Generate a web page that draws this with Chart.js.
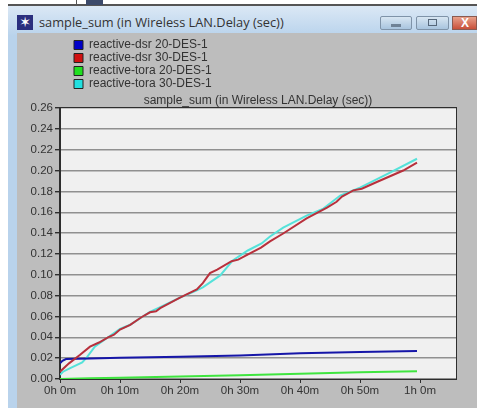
<!DOCTYPE html>
<html><head><meta charset="utf-8">
<script src="https://cdn.jsdelivr.net/npm/chart.js@4"></script>
<style>
html,body{margin:0;padding:0;background:#fff;overflow:hidden}
#win{position:absolute;left:0;top:0;width:477px;height:408px;overflow:hidden}
.a{position:absolute}
#c{position:absolute;left:0;top:0}
</style></head><body>
<div id="win">
<div class="a" style="left:8px;top:4px;width:469px;height:2px;background:#555"></div>
<div class="a" style="left:76px;top:0;width:1px;height:5px;background:#555"></div>
<div class="a" style="left:86px;top:0;width:17px;height:5px;background:#3c4a6a"></div>
<div class="a" style="left:8px;top:6px;width:469px;height:402px;background:linear-gradient(#dbe8f5,#b9d3ec 30px)"></div>
<div class="a" style="left:17px;top:33px;width:460px;height:375px;background:#bdbdbd"></div>
<div class="a" style="left:17px;top:15px;width:16px;height:15px;background:#2b2f7e;color:#fff;font:bold 14px/15px 'DejaVu Sans';text-align:center">✶</div>
<div class="a" style="left:39px;top:13px;font:12.8px/18px 'Open Sans';color:#333">sample_sum (in Wireless LAN.Delay (sec))</div>
<div class="a" style="left:380px;top:16px;width:32px;height:14px;border-radius:2px;background:linear-gradient(#d8e6f2,#a8c4de);border:1px solid #7f93a8;box-sizing:border-box"><div class="a" style="left:10px;top:7px;width:10px;height:3px;background:#6f8296"></div></div>
<div class="a" style="left:416px;top:16px;width:33px;height:14px;border-radius:2px;background:linear-gradient(#d8e6f2,#a8c4de);border:1px solid #7f93a8;box-sizing:border-box"><div class="a" style="left:11px;top:2px;width:9px;height:7px;border:1px solid #56677a;box-sizing:border-box"></div></div>
<div class="a" style="left:452px;top:16px;width:25px;height:14px;background:linear-gradient(#e8a08a,#c8503a);border:1px solid #8a5a50;box-sizing:border-box;color:#fff;font:bold 12px/12px 'Liberation Sans';padding-left:8px">X</div>
<canvas id="c" width="477" height="408"></canvas>
</div>
<script>
const chartTitle = "sample_sum (in Wireless LAN.Delay (sec))";
const seriesNames = ["reactive-dsr 20-DES-1","reactive-dsr 30-DES-1","reactive-tora 20-DES-1","reactive-tora 30-DES-1"];

const dsr20Min = [0, 0.4, 1, 5, 10, 20, 30, 40, 50, 59.5];
const dsr20Val = [0.0150, 0.0175, 0.0192, 0.0196, 0.0204, 0.0213, 0.0225, 0.0247, 0.0258, 0.0268];

const dsr30Min = [0, 1.5, 3.3, 5, 6.5, 8, 9, 10, 11.7, 13.5, 15, 16, 16.7, 20, 22.8, 23.8, 25, 26.2, 28.6, 29.7, 31.5, 33.5, 35, 37.2, 41.1, 44.5, 46.1, 47, 48.9, 50.3, 52.8, 57.2, 59.5];
const dsr30Val = [0.0070, 0.0150, 0.0230, 0.0310, 0.0350, 0.0400, 0.0425, 0.0475, 0.0520, 0.0590, 0.0640, 0.0650, 0.0680, 0.0780, 0.0860, 0.0920, 0.1016, 0.1050, 0.1130, 0.1145, 0.1200, 0.1260, 0.1320, 0.1396, 0.1540, 0.1645, 0.1700, 0.1750, 0.1810, 0.1826, 0.1890, 0.2000, 0.2075];

const tora20Min = [0, 5, 10, 20, 30, 40, 50, 59.5];
const tora20Val = [0.0001, 0.0006, 0.0012, 0.0024, 0.0036, 0.0050, 0.0064, 0.0074];

const tora30Min = [0, 0.5, 1.7, 3.7, 4.5, 5.8, 8, 10, 11.7, 15, 16.7, 20, 22.8, 23.8, 26.7, 28.8, 31.3, 33.6, 35, 37.2, 41.1, 43.9, 46.7, 50, 55, 59.5];
const tora30Val = [0.0040, 0.0070, 0.0105, 0.0160, 0.0210, 0.0310, 0.0400, 0.0480, 0.0520, 0.0645, 0.0690, 0.0780, 0.0850, 0.0880, 0.0994, 0.1138, 0.1233, 0.1300, 0.1367, 0.1453, 0.1568, 0.1635, 0.1760, 0.1836, 0.1980, 0.2113];

const xTickMinutes = [0, 10, 20, 30, 40, 50, 60];
const lineColors = ["#1616a8","#b8303c","#3fe53f","#55e2da"];
const swatchColors = ["#0000c8","#d01010","#20e020","#20e0e0"];
const xMaxMinutes = 66, yMaxValue = 0.26, yStep = 0.02;

const pts = (xs, ys) => xs.map((x, i) => ({x, y: ys[i]}));
const fmtTime = m => Math.floor(m/60) + "h " + (m%60) + "m";
const font = {family:"'Liberation Sans'", size:11.5};

const frame = {
  id:"frame",
  beforeDatasetsDraw(ch){
    const {ctx, chartArea:a} = ch;
    ctx.save();
    ctx.strokeStyle = "#2e2e2e"; ctx.lineWidth = 1;
    ctx.strokeRect(a.left-0.5, a.top-0.5, a.right-a.left+1, a.bottom-a.top+1);
    ctx.restore();
  },
  beforeDraw(ch){
    const {ctx, chartArea:a} = ch;
    ctx.save(); ctx.fillStyle = "#f0f0f0";
    ctx.fillRect(a.left, a.top, a.right-a.left, a.bottom-a.top);
    ctx.restore();
  },
  afterLayout(ch){
    const l = ch.legend, w = l.right - l.left, h = l.bottom - l.top;
    l.left = 73; l.right = 73 + w; l.top = 38; l.bottom = 38 + h;
    const t = ch.titleBlock, a = ch.chartArea;
    t.left = a.left; t.right = a.right;
  }
};

new Chart(document.getElementById("c"), {
  type:"line",
  plugins:[frame],
  data:{datasets:[
    {label:seriesNames[0], data:pts(dsr20Min,dsr20Val), order:2},
    {label:seriesNames[1], data:pts(dsr30Min,dsr30Val), order:1},
    {label:seriesNames[2], data:pts(tora20Min,tora20Val), order:3},
    {label:seriesNames[3], data:pts(tora30Min,tora30Val), order:4}
  ].map((d,i)=>({...d, borderColor:lineColors[i], backgroundColor:swatchColors[i], borderWidth:2, pointRadius:0, tension:0, fill:false}))},
  options:{
    responsive:false, animation:false,
    devicePixelRatio:1,
    layout:{padding:{left:0,right:21,top:0,bottom:0}},
    plugins:{
      title:{display:true, text:chartTitle, color:"#333", font:{family:"'Liberation Sans'", size:12, weight:"normal"}, padding:{top:93.6,bottom:0}},
      legend:{display:true, position:"chartArea", align:"start", reverse:false,
        labels:{boxWidth:9, boxHeight:9, padding:1, color:"#333", font:{family:"'Liberation Sans'",size:12}, generateLabels(ch){
          return ch.data.datasets.map((d,i)=>({text:d.label, fillStyle:d.backgroundColor, strokeStyle:"#222", lineWidth:1, datasetIndex:i, hidden:false, fontColor:"#333"}));
        }}},
      tooltip:{enabled:false}
    },
    scales:{
      x:{type:"linear", min:0, max:xMaxMinutes,
        afterBuildTicks(s){ s.ticks = xTickMinutes.map(value=>({value})); },
        afterFit(s){ s.height = 29; },
        grid:{display:true, drawOnChartArea:false, drawTicks:true, tickLength:4, color:"#2e2e2e"},
        border:{display:true, color:"#2e2e2e"},
        ticks:{color:"#333", font, padding:1, maxRotation:0, autoSkip:false, callback:v=>fmtTime(v)}},
      y:{type:"linear", min:0, max:yMaxValue,
        afterFit(s){ s.width = 60; },
        grid:{display:true, color:"#909090", lineWidth:1.4, tickLength:5, tickColor:"#2e2e2e"},
        border:{display:true, color:"#2e2e2e"},
        ticks:{stepSize:yStep, color:"#333", font, padding:2, autoSkip:false, callback:v=>v.toFixed(2)}}
    }
  }
});
</script>
</body></html>
